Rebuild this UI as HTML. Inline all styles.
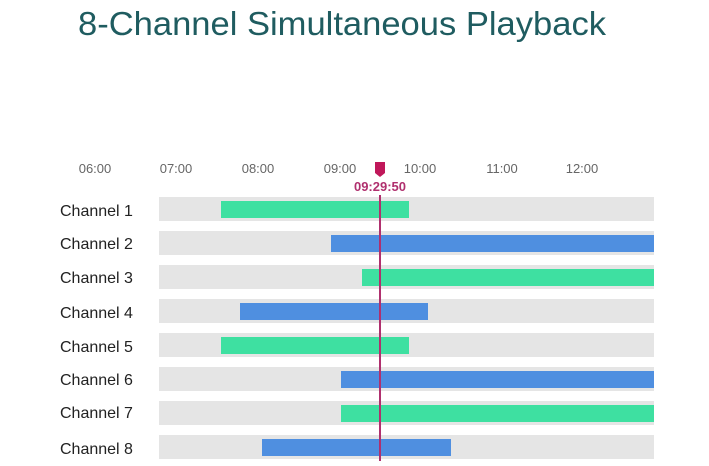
<!DOCTYPE html>
<html><head><meta charset="utf-8"><style>html,body{margin:0;padding:0;background:#fff;}svg{display:block}</style></head>
<body>
<svg width="709" height="466" viewBox="0 0 709 466" xmlns="http://www.w3.org/2000/svg" font-family="Liberation Sans, sans-serif">
<text x="78" y="35" font-size="33" fill="#1f5c60" textLength="528" lengthAdjust="spacingAndGlyphs">8-Channel Simultaneous Playback</text>
<g font-size="13" fill="#666" text-anchor="middle">
<text x="95" y="173">06:00</text><text x="176" y="173">07:00</text><text x="258" y="173">08:00</text><text x="340" y="173">09:00</text><text x="420" y="173">10:00</text><text x="502" y="173">11:00</text><text x="582" y="173">12:00</text>
</g>
<g font-size="16" fill="#222">
<text x="60" y="216">Channel 1</text><text x="60" y="249">Channel 2</text><text x="60" y="283">Channel 3</text><text x="60" y="318">Channel 4</text><text x="60" y="352">Channel 5</text><text x="60" y="385">Channel 6</text><text x="60" y="418">Channel 7</text><text x="60" y="454">Channel 8</text>
</g>
<g fill="#e5e5e5">
<rect x="159" y="197" width="495" height="24"/><rect x="159" y="231" width="495" height="24"/><rect x="159" y="265" width="495" height="24"/><rect x="159" y="299" width="495" height="24"/><rect x="159" y="333" width="495" height="24"/><rect x="159" y="367" width="495" height="24"/><rect x="159" y="401" width="495" height="24"/><rect x="159" y="435" width="495" height="24"/>
</g>
<rect x="221" y="201" width="188" height="17" fill="#3ee0a1"/>
<rect x="331" y="235" width="323" height="17" fill="#4f8fe0"/>
<rect x="362" y="269" width="292" height="17" fill="#3ee0a1"/>
<rect x="240" y="303" width="188" height="17" fill="#4f8fe0"/>
<rect x="221" y="337" width="188" height="17" fill="#3ee0a1"/>
<rect x="341" y="371" width="313" height="17" fill="#4f8fe0"/>
<rect x="341" y="405" width="313" height="17" fill="#3ee0a1"/>
<rect x="262" y="439" width="189" height="17" fill="#4f8fe0"/>
<line x1="380" y1="195" x2="380" y2="461" stroke="#b0306e" stroke-width="2"/>
<path d="M375 162 H385 V173 L380 177 L375 173 Z" fill="#c0185a"/>
<text x="380" y="191" font-size="13" font-weight="bold" fill="#b0306e" text-anchor="middle">09:29:50</text>
</svg>
</body></html>
